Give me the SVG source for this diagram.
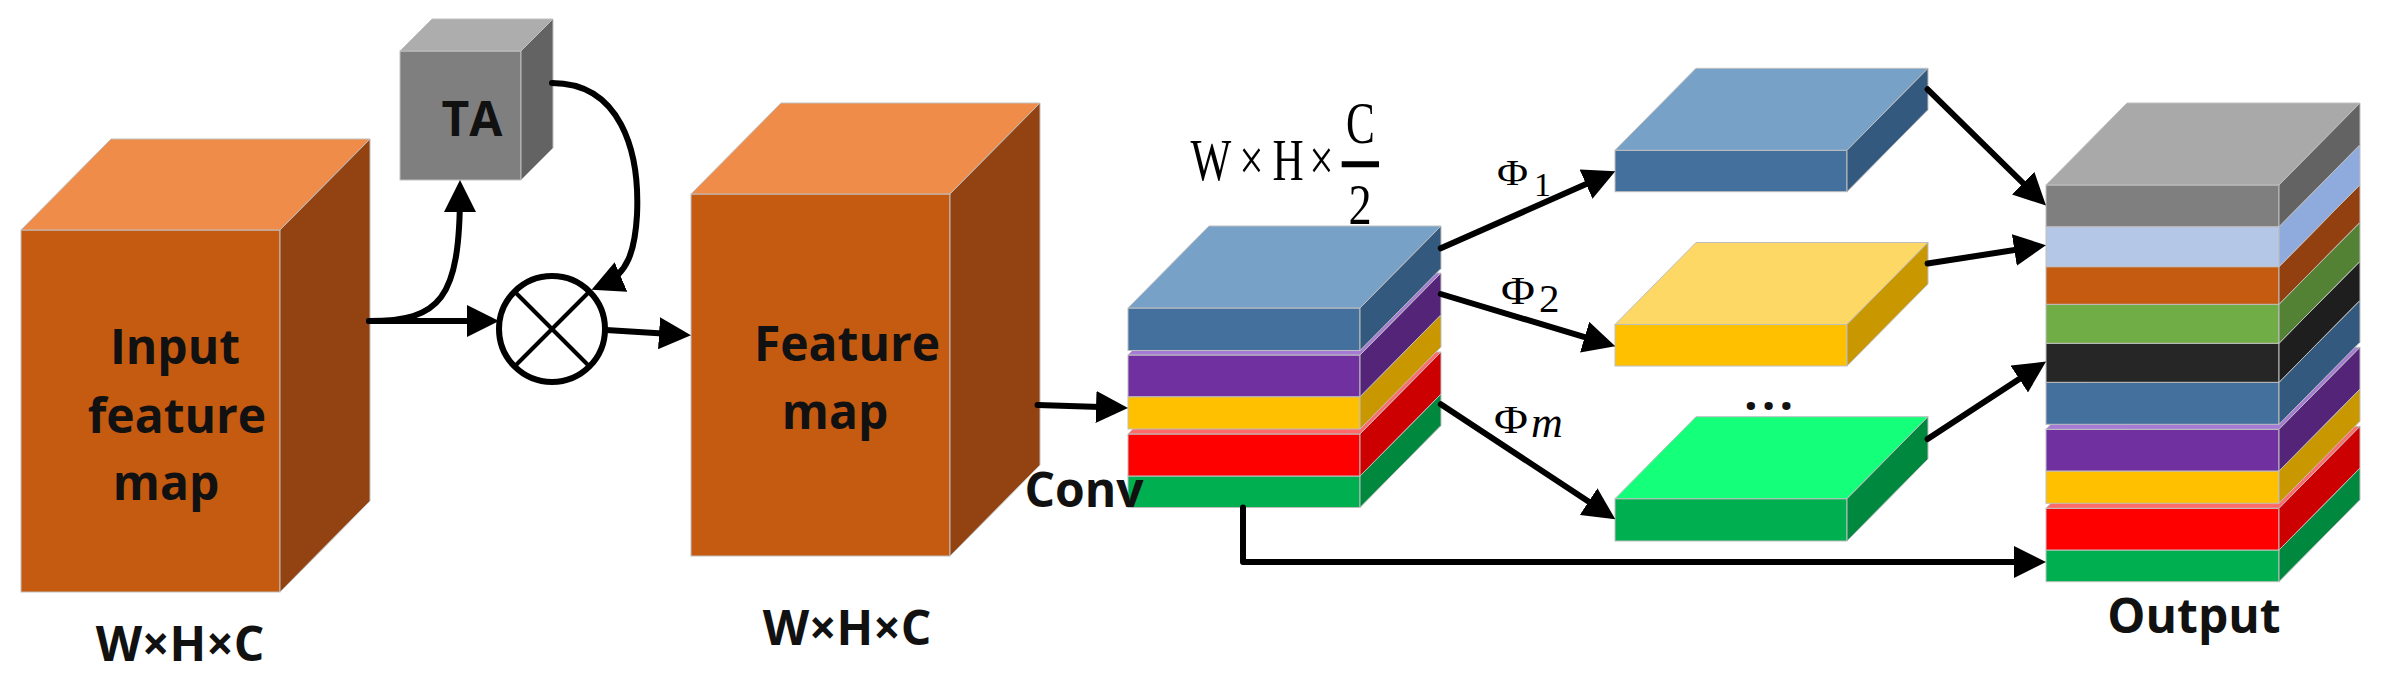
<svg xmlns="http://www.w3.org/2000/svg" width="2383" height="683" viewBox="0 0 2383 683">
<style>
  .e { stroke: #BFBFBF; stroke-width: 1; }
  .lbl { font-family: "Open Sans", "DejaVu Sans", sans-serif; font-weight: bold; font-size: 48px; fill: #111; text-anchor: middle; }
  .math { font-family: "Liberation Serif", "Times New Roman", serif; fill: #000; }
  .conn { fill: none; stroke: #000; stroke-width: 6; stroke-linecap: round; stroke-linejoin: round; }
  .arr { marker-end: url(#ah); }
</style>
<defs>
  <marker id="ah" markerUnits="userSpaceOnUse" markerWidth="32" markerHeight="32" viewBox="0 0 32 32" refX="20" refY="16" orient="auto">
    <path d="M0,0 L32,16 L0,32 z" fill="#000"/>
  </marker>
</defs>
<rect width="2383" height="683" fill="#fff"/>

<!-- Input feature map cube -->
<g id="input-cube">
  <rect class="e" x="21" y="230" width="259" height="362" fill="#C55A11"/>
  <polygon class="e" points="21,230 111,139 370,139 280,230" fill="#EF8C4A"/>
  <polygon class="e" points="280,230 370,139 370,501 280,592" fill="#934311"/>
  <text class="lbl" x="175" y="364">Input</text>
  <text class="lbl" x="177" y="433">feature</text>
  <text class="lbl" x="166" y="500">map</text>
</g>
<text id="input-dim" class="lbl" x="180" y="661">W×H×C</text>

<!-- TA cube -->
<g id="ta">
  <rect class="e" x="400" y="51" width="121" height="129" fill="#7F7F7F"/>
  <polygon class="e" points="400,51 432,19 553,19 521,51" fill="#ADADAD"/>
  <polygon class="e" points="521,51 553,19 553,148 521,180" fill="#636363"/>
  <text class="lbl" x="472" y="136">TA</text>
</g>

<!-- multiply circle -->
<g id="multiply">
  <circle cx="552" cy="329" r="53" fill="#fff" stroke="#000" stroke-width="6"/>
  <line x1="514.5" y1="291.5" x2="589.5" y2="366.5" stroke="#000" stroke-width="4"/>
  <line x1="514.5" y1="366.5" x2="589.5" y2="291.5" stroke="#000" stroke-width="4"/>
</g>

<!-- Feature map cube -->
<g id="feature-cube">
  <rect class="e" x="691" y="194" width="259" height="362" fill="#C55A11"/>
  <polygon class="e" points="691,194 781,103 1040,103 950,194" fill="#EF8C4A"/>
  <polygon class="e" points="950,194 1040,103 1040,465 950,556" fill="#934311"/>
  <text class="lbl" x="847" y="361">Feature</text>
  <text class="lbl" x="835" y="429">map</text>
</g>
<text id="feature-dim" class="lbl" x="847" y="645">W×H×C</text>

<!-- Conv stack -->
<g id="conv-stack">
  <rect class="e" x="1128" y="476" width="232" height="31.5" fill="#00B050"/>
  <polygon class="e" points="1360,476 1441,394 1441,425.5 1360,507.5" fill="#00883E"/>
  <rect class="e" x="1128" y="434" width="232" height="42" fill="#FF0000"/>
  <polygon class="e" points="1128,434 1209,352 1441,352 1360,434" fill="#FF6B6B"/>
  <polygon class="e" points="1360,434 1441,352 1441,394 1360,476" fill="#CC0000"/>
  <rect class="e" x="1128" y="396.7" width="232" height="32.3" fill="#FFC000"/>
  <polygon class="e" points="1360,396.7 1441,314.7 1441,347 1360,429" fill="#C99700"/>
  <rect class="e" x="1128" y="355" width="232" height="41.7" fill="#7030A0"/>
  <polygon class="e" points="1128,355 1209,273 1441,273 1360,355" fill="#A67BD6"/>
  <polygon class="e" points="1360,355 1441,273 1441,314.7 1360,396.7" fill="#532477"/>
  <rect class="e" x="1128" y="308" width="232" height="42.5" fill="#43709D"/>
  <polygon class="e" points="1128,308 1209,226 1441,226 1360,308" fill="#78A1C8"/>
  <polygon class="e" points="1360,308 1441,226 1441,268.5 1360,350.5" fill="#335A7E"/>
</g>
<text id="conv-label" class="lbl" x="1084" y="507">Conv</text>

<!-- W x H x C/2 label -->
<g id="half-dim" class="math">
  <text font-size="60" text-anchor="middle" transform="translate(1211,180) scale(0.72,1)">W</text>
  <text font-size="60" text-anchor="middle" transform="translate(1251.5,180) scale(0.72,1)">×</text>
  <text font-size="60" text-anchor="middle" transform="translate(1288,180) scale(0.72,1)">H</text>
  <text font-size="60" text-anchor="middle" transform="translate(1321.5,180) scale(0.72,1)">×</text>
  <text font-size="60" text-anchor="middle" transform="translate(1360.3,143.3) scale(0.72,1)">C</text>
  <line x1="1341.7" y1="164.3" x2="1379" y2="164.3" stroke="#000" stroke-width="6"/>
  <text font-size="58" text-anchor="middle" transform="translate(1360,224) scale(0.8,1)">2</text>
</g>

<!-- Phi labels -->
<g id="phi-labels" class="math">
  <text font-size="36" transform="translate(1497,185) scale(1.18,1)">Φ</text>
  <text font-size="34" x="1534" y="196">1</text>
  <text font-size="40" transform="translate(1501,304) scale(1.16,1)">Φ</text>
  <text font-size="41" x="1539" y="311.7">2</text>
  <text font-size="40" transform="translate(1494,433) scale(1.16,1)">Φ</text>
  <text font-size="44" font-style="italic" x="1531" y="436.7">m</text>
</g>

<!-- Right blocks -->
<g id="block-1">
  <rect class="e" x="1615" y="150.3" width="232" height="41.4" fill="#43709D"/>
  <polygon class="e" points="1615,150.3 1696,68.3 1928,68.3 1847,150.3" fill="#78A1C8"/>
  <polygon class="e" points="1847,150.3 1928,68.3 1928,109.7 1847,191.7" fill="#335A7E"/>
</g>
<g id="block-2">
  <rect class="e" x="1615" y="324.5" width="232" height="41.5" fill="#FFC000"/>
  <polygon class="e" points="1615,324.5 1696,242.5 1928,242.5 1847,324.5" fill="#FED864"/>
  <polygon class="e" points="1847,324.5 1928,242.5 1928,284 1847,366" fill="#C99700"/>
</g>
<text id="ellipsis" class="lbl" x="1744" y="410" font-size="60" style="text-anchor:start" letter-spacing="4">...</text>
<g id="block-3">
  <rect class="e" x="1615" y="498.7" width="232" height="42.3" fill="#00B050"/>
  <polygon class="e" points="1615,498.7 1696,416.7 1928,416.7 1847,498.7" fill="#14FF7A"/>
  <polygon class="e" points="1847,498.7 1928,416.7 1928,459 1847,541" fill="#00883E"/>
</g>

<!-- Output stack -->
<g id="output-stack">
  <rect class="e" x="2046" y="550" width="233" height="31.7" fill="#00B050"/>
  <polygon class="e" points="2279,550 2360,468 2360,499.7 2279,581.7" fill="#00883E"/>
  <rect class="e" x="2046" y="508.3" width="233" height="41.7" fill="#FF0000"/>
  <polygon class="e" points="2046,508.3 2127,426.3 2360,426.3 2279,508.3" fill="#FF6B6B"/>
  <polygon class="e" points="2279,508.3 2360,426.3 2360,468 2279,550" fill="#CC0000"/>
  <rect class="e" x="2046" y="471" width="233" height="32.3" fill="#FFC000"/>
  <polygon class="e" points="2279,471 2360,389 2360,421.3 2279,503.3" fill="#C99700"/>
  <rect class="e" x="2046" y="429.3" width="233" height="41.7" fill="#7030A0"/>
  <polygon class="e" points="2046,429.3 2127,347.3 2360,347.3 2279,429.3" fill="#A67BD6"/>
  <polygon class="e" points="2279,429.3 2360,347.3 2360,389 2279,471" fill="#532477"/>
  <rect class="e" x="2046" y="382.3" width="233" height="42" fill="#43709D"/>
  <polygon class="e" points="2279,382.3 2360,300.3 2360,342.3 2279,424.3" fill="#335A7E"/>
  <rect class="e" x="2046" y="343.3" width="233" height="39" fill="#262626"/>
  <polygon class="e" points="2279,343.3 2360,261.3 2360,300.3 2279,382.3" fill="#1E1E1E"/>
  <rect class="e" x="2046" y="304.3" width="233" height="39" fill="#70AD47"/>
  <polygon class="e" points="2279,304.3 2360,222.3 2360,261.3 2279,343.3" fill="#548235"/>
  <rect class="e" x="2046" y="266.7" width="233" height="37.6" fill="#C55A11"/>
  <polygon class="e" points="2279,266.7 2360,184.7 2360,222.3 2279,304.3" fill="#924010"/>
  <rect class="e" x="2046" y="226.7" width="233" height="40" fill="#B4C7E7"/>
  <polygon class="e" points="2279,226.7 2360,144.7 2360,184.7 2279,266.7" fill="#8FAADC"/>
  <rect class="e" x="2046" y="185" width="233" height="41.7" fill="#7F7F7F"/>
  <polygon class="e" points="2046,185 2127,103 2360,103 2279,185" fill="#A9A9A9"/>
  <polygon class="e" points="2279,185 2360,103 2360,144.7 2279,226.7" fill="#636363"/>
</g>
<text id="output-label" class="lbl" x="2194" y="633">Output</text>

<!-- Connectors -->
<g id="connectors">
  <path class="conn arr" d="M369,321 L487,321"/>
  <path class="conn arr" d="M369,321 C440,321 460,300 460,192"/>
  <path class="conn arr" d="M552,83 C620,83 640,150 637,215 C635,250 628,274 602.6,284.9"/>
  <path class="conn arr" d="M606,330 L679,334.6"/>
  <path class="conn arr" d="M1037.5,405 L1116,407.6"/>
  <path class="conn arr" d="M1440.8,248.3 L1604.3,176"/>
  <path class="conn arr" d="M1440.8,294 L1603.8,342.9"/>
  <path class="conn arr" d="M1440.8,404.2 L1605.3,512.6"/>
  <path class="conn arr" d="M1927.6,89.3 L2037.4,197.2"/>
  <path class="conn arr" d="M1927.6,263.5 L2034.1,247"/>
  <path class="conn arr" d="M1927.6,439 L2036,368.1"/>
  <path class="conn arr" d="M1243,507.5 L1243,562 L2034,562"/>
</g>
</svg>
